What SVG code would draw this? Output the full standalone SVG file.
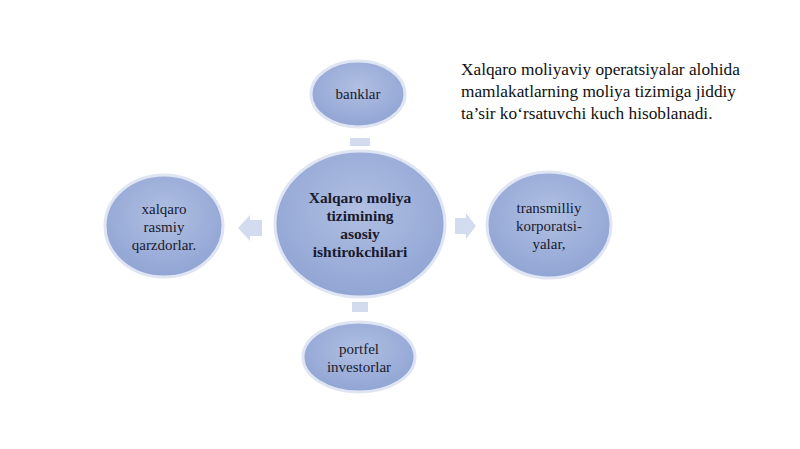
<svg xmlns="http://www.w3.org/2000/svg" width="800" height="449" viewBox="0 0 800 449">
<defs>
<radialGradient id="g" cx="50%" cy="40%" r="60%"><stop offset="0" stop-color="#b0bfe2"/><stop offset="1" stop-color="#91a5d4"/></radialGradient>
<style>
.n{fill:url(#g);stroke:#dfe5f3;stroke-width:3}
.t{font-family:"Liberation Serif",serif;font-size:15px;fill:#1a1a2e;text-anchor:middle}
.b{font-weight:bold;font-size:15.5px}
.a{fill:#d3dcef}
.p{font-family:"Liberation Serif",serif;font-size:17.3px;fill:#111}
</style>
</defs>
<rect width="800" height="449" fill="#fff"/>
<g id="connectors">
<polygon class="a" points="350,146 350,138 370,138 370,146"/>
<polygon class="a" points="262,220 250,220 250,215 238,228 250,241 250,236 262,236"/>
<polygon class="a" points="455,218 466,218 466,213 476,226 466,239 466,234 455,234"/>
<polygon class="a" points="352,302 368,302 368,312 352,312"/>
</g>
<g id="center"><ellipse class="n" cx="360" cy="224" rx="85" ry="73"/>
<text class="t b" x="360" y="203">Xalqaro moliya</text><text class="t b" x="360" y="221">tizimining</text><text class="t b" x="360" y="239">asosiy</text><text class="t b" x="360" y="257">ishtirokchilari</text></g>
<g id="banklar"><ellipse class="n" cx="358" cy="94" rx="47" ry="33"/><text class="t" x="358" y="99">banklar</text></g>
<g id="left"><ellipse class="n" cx="164" cy="226" rx="59" ry="51"/>
<text class="t" x="164" y="214">xalqaro</text><text class="t" x="164" y="232">rasmiy</text><text class="t" x="164" y="250">qarzdorlar.</text></g>
<g id="right"><ellipse class="n" cx="549" cy="225" rx="62" ry="53"/>
<text class="t" x="549" y="213">transmilliy</text><text class="t" x="549" y="231">korporatsi-</text><text class="t" x="549" y="249">yalar,</text></g>
<g id="bottom"><ellipse class="n" cx="359" cy="357" rx="56" ry="35"/>
<text class="t" x="359" y="354">portfel</text><text class="t" x="359" y="372">investorlar</text></g>
<text class="p" x="461" y="75">Xalqaro moliyaviy operatsiyalar alohida</text>
<text class="p" x="461" y="97">mamlakatlarning moliya tizimiga jiddiy</text>
<text class="p" x="461" y="119">ta’sir ko‘rsatuvchi kuch hisoblanadi.</text>
</svg>
